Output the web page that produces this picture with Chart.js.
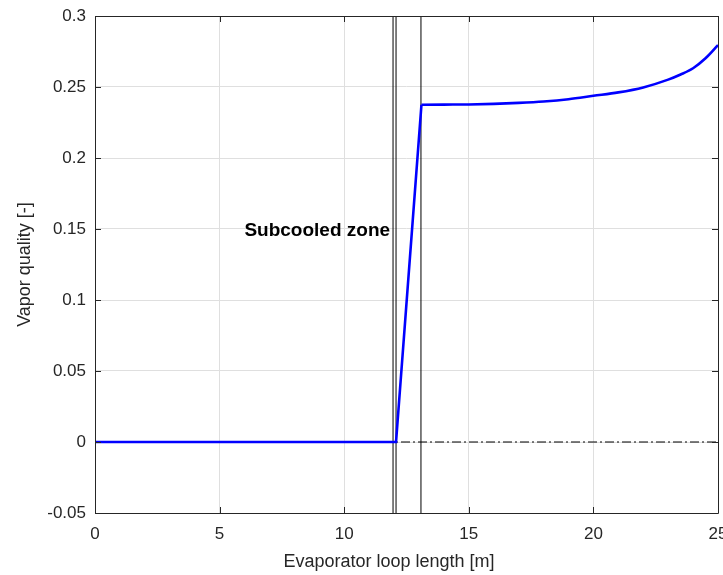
<!DOCTYPE html>
<html>
<head>
<meta charset="utf-8">
<script src="https://cdn.jsdelivr.net/npm/chart.js@4.4.1/dist/chart.umd.min.js"></script>
<style>
  html, body { margin: 0; padding: 0; background: #fff; }
  #wrap { width: 723px; height: 575px; }
</style>
</head>
<body>
<div id="wrap"><canvas id="chart" width="723" height="575"></canvas></div>
<script>
// vapor quality along the evaporator loop
const loopLength = [0, 12.08, 13.1, 14, 15, 16, 17, 18, 19, 20, 21, 22, 23, 23.5, 24, 24.5, 25];
const vaporQuality = [0, 0, 0.2375, 0.2376, 0.2377, 0.2381, 0.2388, 0.2398, 0.2414, 0.2438, 0.2462, 0.2497, 0.2552, 0.2588, 0.2632, 0.2702, 0.2795];

// zone boundaries (vertical lines) and zero reference
const zoneBounds = [11.96, 12.08, 13.08];
const zeroLine = [0, 25];

const xTicks = [0, 5, 10, 15, 20, 25];
const yTicks = [-0.05, 0, 0.05, 0.1, 0.15, 0.2, 0.25, 0.3];

const axisColor = '#262626';
const gridColor = '#dfdfdf';
const font = 'Liberation Sans, Arial, Helvetica, sans-serif';

const points = loopLength.map(function (x, i) { return {x: x, y: vaporQuality[i]}; });

let datasets = [];

zoneBounds.forEach(function (b) {
    datasets.push({
        data: [{x: b, y: -0.05}, {x: b, y: 0.3}],
        borderColor: '#000',
        borderWidth: 1,
        pointRadius: 0,
        order: 3
    });
});

datasets.push({
    data: zeroLine.map(function (x) { return {x: x, y: 0}; }),
    borderColor: '#000',
    borderWidth: 1,
    borderDash: [9, 3, 2, 3],
    pointRadius: 0,
    order: 2
});

// straight part: flat then the jump
datasets.push({
    data: points.slice(0, 3),
    borderColor: '#0000ff',
    borderWidth: 2.6,
    pointRadius: 0,
    tension: 0,
    order: 1
});
// two-phase part, smooth
datasets.push({
    data: points.slice(2),
    borderColor: '#0000ff',
    borderWidth: 2.6,
    pointRadius: 0,
    cubicInterpolationMode: 'monotone',
    order: 1
});

// box, inward ticks and the texts
const matlabBox = {
    id: 'matlabBox',
    afterDatasetsDraw(chart) {
        const ctx = chart.ctx;
        const a = chart.chartArea;
        const xs = chart.scales.x, ys = chart.scales.y;
        ctx.save();
        ctx.strokeStyle = axisColor;
        ctx.lineWidth = 1;
        ctx.beginPath();
        ctx.rect(Math.round(a.left) + 0.5, Math.round(a.top) + 0.5, Math.round(a.right - a.left), Math.round(a.bottom - a.top));
        ctx.stroke();
        ctx.beginPath();
        xTicks.forEach(function (t) {
            const px = Math.round(xs.getPixelForValue(t)) + 0.5;
            ctx.moveTo(px, a.bottom); ctx.lineTo(px, a.bottom - 6);
            ctx.moveTo(px, a.top); ctx.lineTo(px, a.top + 6);
        });
        yTicks.forEach(function (t) {
            const py = Math.round(ys.getPixelForValue(t)) + 0.5;
            ctx.moveTo(a.left, py); ctx.lineTo(a.left + 6, py);
            ctx.moveTo(a.right, py); ctx.lineTo(a.right - 6, py);
        });
        ctx.stroke();

        ctx.fillStyle = '#000';
        ctx.font = 'bold 19px ' + font;
        ctx.textAlign = 'right';
        ctx.textBaseline = 'middle';
        ctx.fillText('Subcooled zone', xs.getPixelForValue(11.84), ys.getPixelForValue(0.1485));

        ctx.fillStyle = axisColor;
        ctx.font = '18px ' + font;
        ctx.textAlign = 'center';
        ctx.fillText('Evaporator loop length [m]', 389, 562);
        ctx.restore();
    }
};

new Chart(document.getElementById('chart'), {
    type: 'line',
    data: { datasets: datasets },
    options: {
        responsive: false,
        animation: false,
        layout: { padding: { top: 16, right: 5, left: 0, bottom: 0 } },
        plugins: {
            legend: { display: false },
            tooltip: { enabled: false }
        },
        scales: {
            x: {
                type: 'linear',
                min: 0,
                max: 25,
                afterBuildTicks: function (s) { s.ticks = xTicks.map(function (v) { return {value: v}; }); },
                afterFit: function (s) { s.height = 62; s.paddingRight = 0; s.paddingLeft = 0; },
                grid: { color: gridColor, drawTicks: false },
                border: { display: false },
                ticks: {
                    color: axisColor,
                    font: { family: font, size: 17 },
                    padding: 11,
                    maxRotation: 0
                }
            },
            y: {
                type: 'linear',
                min: -0.05,
                max: 0.3,
                afterBuildTicks: function (s) { s.ticks = yTicks.map(function (v) { return {value: v}; }); },
                afterFit: function (s) { s.width = 95; s.paddingTop = 0; s.paddingBottom = 0; },
                grid: { color: gridColor, drawTicks: false },
                border: { display: false },
                ticks: {
                    color: axisColor,
                    font: { family: font, size: 17 },
                    padding: 9,
                    callback: function (v) { return String(Math.round(v * 100) / 100); }
                },
                title: {
                    display: true,
                    text: 'Vapor quality [-]',
                    color: axisColor,
                    font: { family: font, size: 18 },
                    padding: { top: 14, bottom: 4 }
                }
            }
        }
    },
    plugins: [matlabBox]
});
</script>
</body>
</html>
